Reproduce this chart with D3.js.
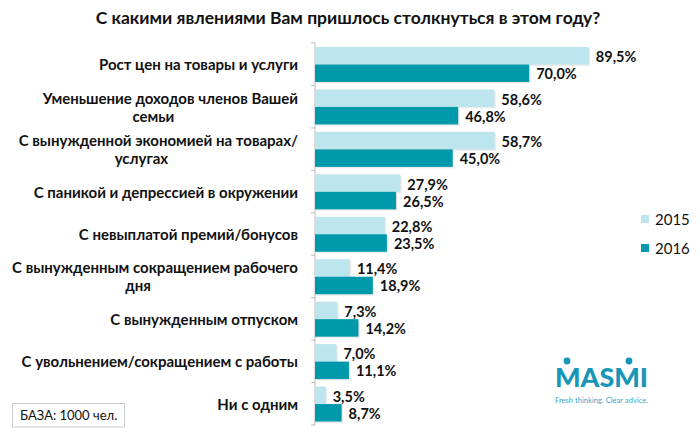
<!DOCTYPE html>
<html><head><meta charset="utf-8">
<script src="https://cdn.jsdelivr.net/npm/d3@7"></script>
<style>body{margin:0;background:#fff;} svg{display:block;}</style>
</head><body>
<svg id="c" width="700" height="436"></svg>
<script>
const categories = [
  ["Рост цен на товары и услуги"],
  ["Уменьшение доходов членов Вашей","семьи"],
  ["С вынужденной экономией на товарах/","услугах"],
  ["С паникой и депрессией в окружении"],
  ["С невыплатой премий/бонусов"],
  ["С вынужденным сокращением рабочего","дня"],
  ["С вынужденным отпуском"],
  ["С увольнением/сокращением с работы"],
  ["Ни с одним"]
];
const values2015 = [89.5, 58.6, 58.7, 27.9, 22.8, 11.4, 7.3, 7.0, 3.5];
const values2016 = [70.0, 46.8, 45.0, 26.5, 23.5, 18.9, 14.2, 11.1, 8.7];
const seriesNames = ["2015", "2016"];
const colors = ["#bce5ed", "#0099ab"];
const title = "С какими явлениями Вам пришлось столкнуться в этом году?";
const baseNote = "БАЗА: 1000 чел.";

const svg = d3.select("#c");
const font = "Lato, 'Open Sans', sans-serif";
const x0 = 315;
const x = d3.scaleLinear().domain([0, 100]).range([x0, x0 + 306]);
const y = d3.scaleBand().domain(d3.range(categories.length)).range([43, 425]).paddingInner(0).paddingOuter(0);
const bh = 17.5;

svg.append("text").attr("x", 348).attr("y", 24).attr("text-anchor", "middle")
  .attr("font-family", font).attr("font-weight", "bold").attr("font-size", 17.5).attr("fill", "#111").text(title);

// axis
const ax = svg.append("g");
ax.append("line").attr("x1", x0).attr("x2", x0).attr("y1", 43).attr("y2", 425).attr("stroke", "#bbb");
d3.range(categories.length + 1).forEach(i => {
  const yy = 43 + i * y.bandwidth();
  ax.append("line").attr("x1", x0 - 4).attr("x2", x0).attr("y1", yy).attr("y2", yy).attr("stroke", "#bbb");
});

const g = svg.append("g");
const lblSize = 15;
categories.forEach((c, i) => {
  const top = y(i) + 4;
  [values2015[i], values2016[i]].forEach((v, s) => {
    const by = top + s * bh;
    g.append("rect").attr("x", x0 + 1.5).attr("y", by + 1.5).attr("width", x(v) - x0).attr("height", bh)
      .attr("fill", "#000").attr("opacity", 0.08);
    g.append("rect").attr("x", x0).attr("y", by).attr("width", x(v) - x0).attr("height", bh).attr("fill", colors[s]);
    g.append("text").attr("x", x(v) + 7).attr("y", by + bh / 2 + (s === 0 ? 6.5 : 6))
      .attr("font-family", font).attr("font-weight", "bold").attr("font-size", 14.5).attr("fill", "#111")
      .text(v.toFixed(1).replace(".", ",") + "%");
  });
  // category label
  const cy = y(i) + y.bandwidth() / 2;
  const t = g.append("text").attr("font-family", font).attr("font-weight", "bold").attr("font-size", lblSize).attr("fill", "#111")
    .attr("x", 298).attr("text-anchor", "end");
  if (c.length === 1) {
    t.attr("y", cy + 6).text(c[0]);
  } else {
    t.attr("y", cy - 3).text(c[0]);
    const w = t.node().getComputedTextLength();
    g.append("text").attr("font-family", font).attr("font-weight", "bold").attr("font-size", lblSize).attr("fill", "#111")
      .attr("text-anchor", "middle").attr("x", 298 - w / 2 - 17).attr("y", cy + 15).text(c[1]);
  }
});

// legend
seriesNames.forEach((n, s) => {
  const ly = 215 + s * 29;
  svg.append("rect").attr("x", 641).attr("y", ly).attr("width", 8).attr("height", 8).attr("fill", colors[s]);
  svg.append("text").attr("x", 655).attr("y", ly + 10).attr("font-family", font).attr("font-size", 15).attr("fill", "#111").text(n);
});

// base note
svg.append("rect").attr("x", 12.5).attr("y", 403.5).attr("width", 112).attr("height", 23.5).attr("fill", "#fff").attr("stroke", "#ccc");
svg.append("text").attr("x", 20).attr("y", 420).attr("font-family", font).attr("font-size", 13).attr("fill", "#111").text(baseNote);

// logo
const lg = svg.append("g");
lg.append("text").attr("x", 555).attr("y", 387).attr("font-family", font).attr("font-weight", 900)
  .attr("font-size", 26).attr("fill", "#1796b8").attr("textLength", 93).attr("lengthAdjust", "spacingAndGlyphs").text("MASMI");
lg.append("circle").attr("cx", 567).attr("cy", 361).attr("r", 3.4).attr("fill", "#1796b8");
lg.append("circle").attr("cx", 629).attr("cy", 361).attr("r", 3.4).attr("fill", "#1796b8");
lg.append("text").attr("x", 555).attr("y", 403).attr("font-family", font).attr("font-size", 7)
  .attr("fill", "#3aa6c8").attr("textLength", 93).attr("lengthAdjust", "spacingAndGlyphs").text("Fresh thinking. Clear advice.");
</script>
</body></html>
